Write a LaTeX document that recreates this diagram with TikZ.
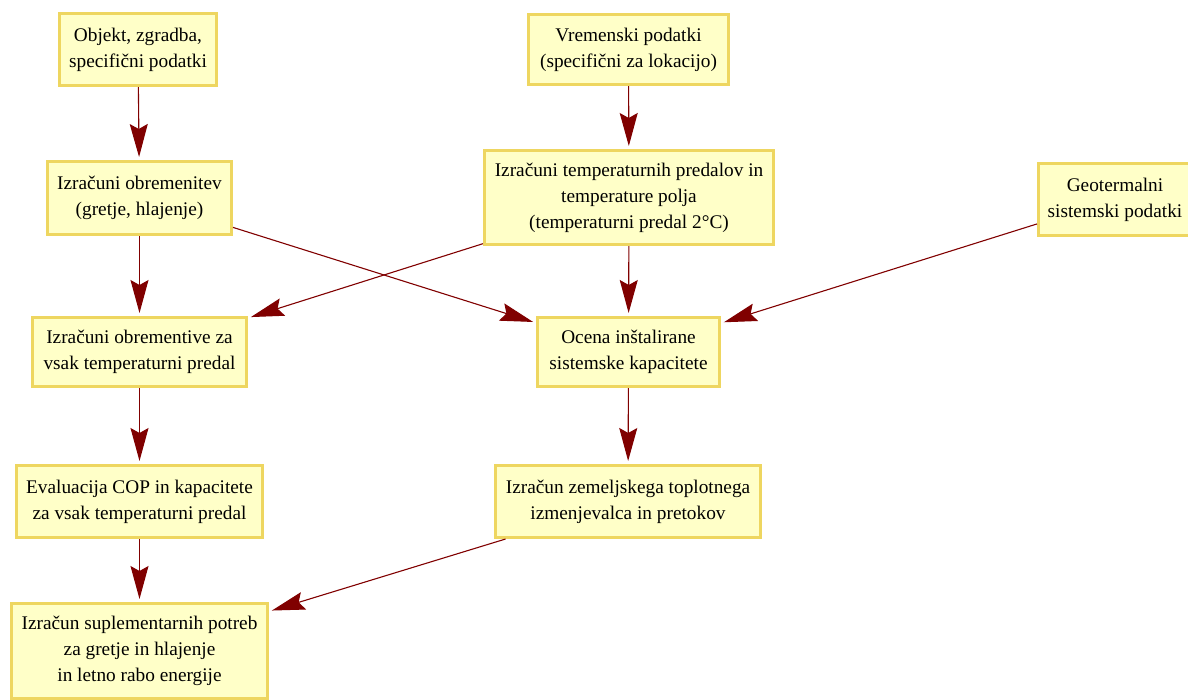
\documentclass[tikz,border=0pt]{standalone}
\usepackage{fontspec}
\setmainfont{Liberation Serif}
\usetikzlibrary{arrows.meta}
\definecolor{boxline}{RGB}{238,214,96}
\definecolor{boxfill}{RGB}{255,255,200}
\definecolor{flow}{RGB}{128,0,0}
\tikzset{
  stepbox/.style={draw=boxline, fill=boxfill, line width=3pt, align=center,
    inner sep=0pt, font=\fontsize{19.3}{26}\selectfont},
  flowarrow/.style={draw=flow, line width=1.1pt,
    -{Stealth[length=33pt, width=18pt, inset=5pt]}, shorten >=3pt}
}
\begin{document}
\begin{tikzpicture}[x=1pt, y=-1pt]
\clip (0,0) rectangle (1188,699);
\useasboundingbox (0,0) rectangle (1188,699);

% input data
\node[stepbox, minimum width=157pt, minimum height=72pt] (obj) at (138,49.5)
  {Objekt, zgradba,\\ specifični podatki};
\node[stepbox, minimum width=200pt, minimum height=70pt] (vrem) at (628.5,49.5)
  {Vremenski podatki\\ (specifični za lokacijo)};
\node[stepbox, minimum width=153pt, minimum height=72pt] (geo) at (1115,199.5)
  {Geotermalni\\ sistemski podatki};

% calculation steps
\node[stepbox, minimum width=184pt, minimum height=73pt] (obrem) at (139.5,198)
  {Izračuni obremenitev\\ (gretje, hlajenje)};
\node[stepbox, minimum width=289pt, minimum height=94pt] (temp) at (629,197.5)
  {Izračuni temperaturnih predalov in\\ temperature polja\\ (temperaturni predal 2°C)};
\node[stepbox, minimum width=214pt, minimum height=69pt] (obrza) at (139.5,352)
  {Izračuni obrementive za\\ vsak temperaturni predal};
\node[stepbox, minimum width=182pt, minimum height=69pt] (ocena) at (628.5,352)
  {Ocena inštalirane\\ sistemske kapacitete};
\node[stepbox, minimum width=246pt, minimum height=72pt] (eval) at (139.5,501.5)
  {Evaluacija COP in kapacitete\\ za vsak temperaturni predal};
\node[stepbox, minimum width=265pt, minimum height=72pt] (zem) at (628,501.5)
  {Izračun zemeljskega toplotnega\\ izmenjevalca in pretokov};
\node[stepbox, minimum width=256pt, minimum height=95pt] (supl) at (139.5,651)
  {Izračun suplementarnih potreb\\ za gretje in hlajenje\\ in letno rabo energije};

% flow
\draw[flowarrow] (obj) -- (obrem);
\draw[flowarrow] (vrem) -- (temp);
\draw[flowarrow] (obrem) -- (obrza);
\draw[flowarrow] (obrem) -- (ocena);
\draw[flowarrow] (temp) -- (obrza);
\draw[flowarrow] (temp) -- (ocena);
\draw[flowarrow] (geo) -- (ocena);
\draw[flowarrow] (obrza) -- (eval);
\draw[flowarrow] (ocena) -- (zem);
\draw[flowarrow] (eval) -- (supl);
\draw[flowarrow] (zem) -- (supl);
\end{tikzpicture}
\end{document}
